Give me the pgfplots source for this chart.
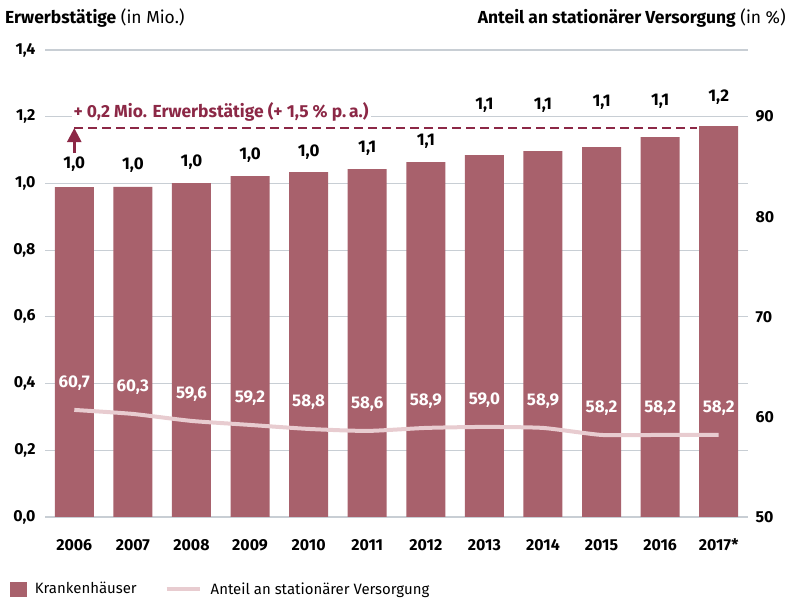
\documentclass[border=0pt]{standalone}
\usepackage{pgfplots}
\pgfplotsset{compat=1.18}
\usepackage{fontspec}
\setmainfont{Fira Sans}
\usetikzlibrary{arrows.meta}
\definecolor{barcol}{RGB}{168,97,108}
\definecolor{dashcol}{RGB}{140,40,70}
\definecolor{linecol}{RGB}{232,204,208}
\definecolor{gridcol}{RGB}{200,206,212}
\newcommand{\tfont}{\fontsize{16}{19}\selectfont}
\newcommand{\hfont}{\fontsize{17.5}{20}\selectfont}
\newcommand{\lfont}{\fontsize{17}{20}\selectfont}
\begin{document}
\begin{tikzpicture}[x=1bp,y=1bp]
\useasboundingbox (0,0) rectangle (792,598);
\node[anchor=base west, inner sep=0, font=\hfont] at (5,574) {\textbf{Erwerbstätige} (in Mio.)};
\node[anchor=base east, inner sep=0, font=\hfont] at (786,574) {\textbf{Anteil an stationärer Versorgung} (in \%)};
\begin{axis}[
  at={(45bp,81bp)}, anchor=south west, scale only axis,
  width=703bp, height=467bp,
  xmin=-0.5, xmax=11.5, ymin=0, ymax=1.4,
  ytick={0,0.2,0.4,0.6,0.8,1.0,1.2,1.4},
  ymajorgrids, grid style={gridcol, line width=1.2bp},
  axis line style={draw=none}, major tick style={draw=none},
  xtick={0,...,11},
  xticklabels={2006,2007,2008,2009,2010,2011,2012,2013,2014,2015,2016,2017*},
  /pgf/number format/assume math mode=true,
  /pgf/number format/use comma, /pgf/number format/fixed,
  /pgf/number format/fixed zerofill, /pgf/number format/precision=1,
  ticklabel style={font=\bfseries\tfont},
  yticklabel style={xshift=-6bp},
  xticklabel style={yshift=-18bp, text height=12bp, text depth=0bp},
]
\addplot[ybar, bar width=39bp, fill=barcol, draw=none] coordinates {
 (0,0.989) (1,0.990) (2,1.001) (3,1.022) (4,1.034) (5,1.043)
 (6,1.064) (7,1.085) (8,1.097) (9,1.109) (10,1.139) (11,1.172)};
\draw[dashcol, line width=2.5bp, dash pattern=on 9bp off 5bp] (axis cs:0,1.166) -- (axis cs:10.63,1.166);
\draw[dashcol, line width=2.5bp, -{Triangle[width=14bp,length=14bp]}] (axis cs:0,1.091) -- (axis cs:0,1.166);
\node[anchor=west, fill=white, inner sep=2bp, text=dashcol, font=\bfseries\hfont] at (axis cs:-0.05,1.214) {+ 0,2 Mio. Erwerbstätige (+ 1,5 \% p.\,a.)};
\foreach \x/\y/\t in {0/1.058/{1,0},1/1.055/{1,0},2/1.064/{1,0},3/1.085/{1,0},4/1.094/{1,0},5/1.106/{1,1},6/1.127/{1,1},7/1.235/{1,1},8/1.235/{1,1},9/1.244/{1,1},10/1.247/{1,1},11/1.259/{1,2}}{
  \edef\tmp{\noexpand\node[font=\noexpand\bfseries\noexpand\lfont] at (axis cs:\x,\y) {\t};}\tmp
}
\end{axis}
\begin{axis}[
  at={(45bp,81bp)}, anchor=south west, scale only axis,
  width=703bp, height=467bp,
  xmin=-0.5, xmax=11.5, ymin=50, ymax=96.6667,
  axis y line*=right, hide x axis,
  ytick={50,60,70,80,90},
  axis line style={draw=none}, major tick style={draw=none},
  /pgf/number format/assume math mode=true,
  ticklabel style={font=\bfseries\tfont},
  yticklabel style={xshift=4bp},
  legend style={at={(axis description cs:-0.055,-0.154)}, anchor=west, draw=none, fill=none,
    legend columns=2, font=\fontsize{15}{17}\selectfont,
    /tikz/every odd column/.append style={column sep=7bp},
    /tikz/every even column/.append style={column sep=26bp}},
]
\addplot[linecol, line width=4bp, smooth, tension=0.35, forget plot,
  nodes near coords, point meta=explicit symbolic,
  every node near coord/.append style={text=white, font=\bfseries\lfont, anchor=center, yshift=27bp}]
 coordinates {(0,60.7)[60,7] (1,60.3)[60,3] (2,59.6)[59,6] (3,59.2)[59,2] (4,58.8)[58,8] (5,58.6)[58,6]
 (6,58.9)[58,9] (7,59.0)[59,0] (8,58.9)[58,9] (9,58.2)[58,2] (10,58.2)[58,2] (11,58.2)[58,2]};
\addlegendimage{legend image code/.code={\fill[barcol] (0bp,-7bp) rectangle (16bp,7bp);}}
\addlegendentry{Krankenhäuser}
\addlegendimage{legend image code/.code={\draw[linecol, line width=4bp] (0bp,0bp) -- (33bp,0bp);}}
\addlegendentry{Anteil an stationärer Versorgung}
\end{axis}
\end{tikzpicture}
\end{document}
